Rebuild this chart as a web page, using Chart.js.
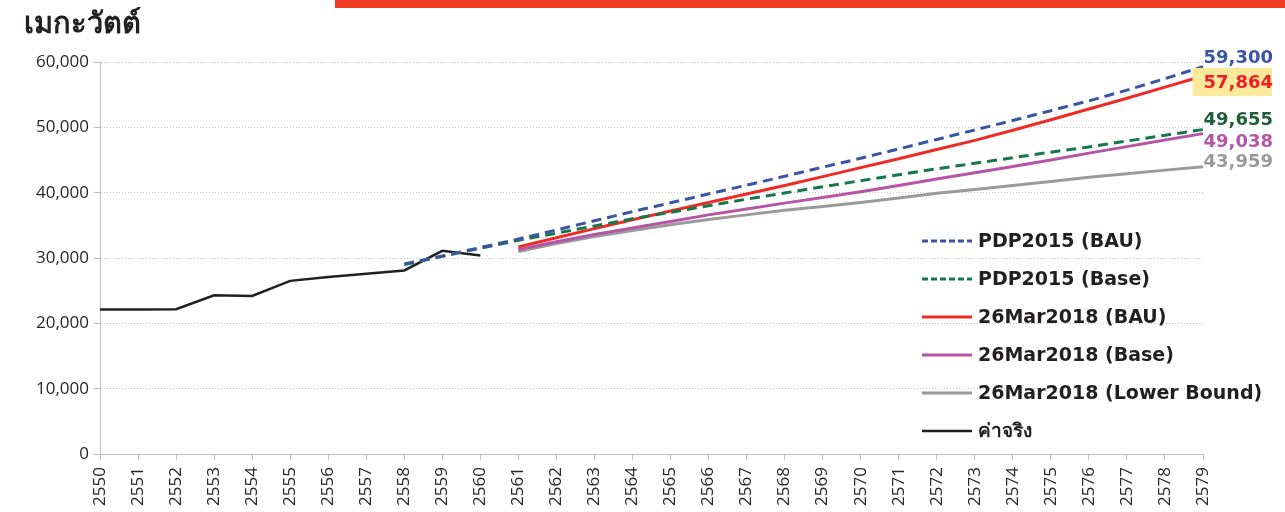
<!DOCTYPE html>
<html>
<head>
<meta charset="utf-8">
<script src="https://cdn.jsdelivr.net/npm/chart.js@4"></script>
<style>
  body { margin: 0; background: #fff; }
  #wrap { position: relative; width: 1285px; height: 512px; }
  #topbar { position: absolute; left: 335px; top: 0; width: 950px; height: 8px; background: #ef3b24; }
  #unit { position: absolute; left: 24px; top: 0px; font: bold 29px Tahoma, "DejaVu Sans", sans-serif; color: #231f20; }
</style>
</head>
<body>
<div id="wrap">
  <canvas id="demandChart" width="1285" height="512"></canvas>
  <div id="topbar"></div>
  <div id="unit">เมกะวัตต์</div>
</div>
<script>
// ปี พ.ศ.
const years = ['2550', '2551', '2552', '2553', '2554', '2555', '2556', '2557', '2558', '2559',
    '2560', '2561', '2562', '2563', '2564', '2565', '2566', '2567', '2568', '2569',
    '2570', '2571', '2572', '2573', '2574', '2575', '2576', '2577', '2578', '2579'];

const actual = [22100, 22100, 22150, 24300, 24200, 26500, 27100, 27600, 28100, 31100,
    30400];

const pdpBau = [null, null, null, null, null, null, null, null, 29100, 30300,
    31600, 32900, 34300, 35700, 37100, 38450, 39800, 41150, 42500, 43900,
    45260, 46700, 48150, 49600, 51050, 52550, 54050, 55700, 57450, 59300];

const pdpBase = [null, null, null, null, null, null, null, null, 29000, 30250,
    31500, 32700, 33800, 34900, 36000, 37000, 38000, 39000, 39950, 40900,
    41840, 42750, 43650, 44500, 45350, 46200, 47000, 47900, 48800, 49655];

const mar18Bau = [null, null, null, null, null, null, null, null, null, null,
    null, 31700, 33100, 34500, 35850, 37200, 38500, 39800, 41100, 42450,
    43830, 45200, 46600, 48000, 49550, 51150, 52800, 54450, 56150, 57864];

const mar18Base = [null, null, null, null, null, null, null, null, null, null,
    null, 31300, 32500, 33600, 34600, 35600, 36600, 37500, 38400, 39250,
    40150, 41100, 42100, 43050, 44000, 45000, 46050, 47050, 48050, 49038];

const mar18Lower = [null, null, null, null, null, null, null, null, null, null,
    null, 31000, 32200, 33300, 34200, 35100, 35900, 36600, 37300, 37900,
    38500, 39200, 39900, 40500, 41100, 41700, 42350, 42900, 43450, 43959];

const yTicks = [0, 10000, 20000, 30000, 40000, 50000, 60000];

const series = [
    { label: 'PDP2015 (BAU)', data: pdpBau, color: '#3a55a4', text: '#3a53a4', dash: [10, 6], width: 3, end: -9 },
    { label: 'PDP2015 (Base)', data: pdpBase, color: '#17774c', text: '#1e5e3b', dash: [10, 6], width: 3, end: -10 },
    { label: '26Mar2018 (BAU)', data: mar18Bau, color: '#ee2a24', text: '#ee1c25', dash: [], width: 3, end: 6 },
    { label: '26Mar2018 (Base)', data: mar18Base, color: '#b455a8', text: '#b455a8', dash: [], width: 3, end: 8 },
    { label: '26Mar2018 (Lower Bound)', data: mar18Lower, color: '#9a9a9a', text: '#9a9a9a', dash: [], width: 3, end: -5 },
    { label: 'ค่าจริง', data: actual, color: '#231f20', text: '#231f20', dash: [], width: 2.5, end: null }
];

const fmt = v => v.toLocaleString('en-US');

// legend + end labels drawn on top
const overlayPlugin = {
    id: 'overlay',
    afterDraw(chart) {
        const ctx = chart.ctx;
        const area = chart.chartArea;
        const yScale = chart.scales.y;
        ctx.save();

        // legend
        series.forEach((s, i) => {
            const ly = 241 + i * 38;
            ctx.beginPath();
            ctx.setLineDash(s.dash.length ? [6, 3] : []);
            ctx.strokeStyle = s.color;
            ctx.lineWidth = s.width;
            ctx.moveTo(922, ly);
            ctx.lineTo(972, ly);
            ctx.stroke();
            ctx.setLineDash([]);
            ctx.fillStyle = '#231f20';
            ctx.font = 'bold 19px Tahoma, "DejaVu Sans", sans-serif';
            ctx.textAlign = 'left';
            ctx.textBaseline = 'middle';
            ctx.fillText(s.label, 978, ly + 1);
        });

        // end labels
        const rx = area.right + 70;
        ctx.font = 'bold 18px Tahoma, "DejaVu Sans", sans-serif';
        ctx.textAlign = 'right';
        ctx.textBaseline = 'middle';
        series.forEach(s => {
            if (s.end === null) return;
            const v = s.data[s.data.length - 1];
            const y = yScale.getPixelForValue(v) + s.end;
            const txt = fmt(v);
            if (s.label === '26Mar2018 (BAU)') {
                const w = ctx.measureText(txt).width;
                ctx.fillStyle = '#fbe99b';
                ctx.fillRect(rx - w - 11, y - 14, w + 10, 28);
            }
            ctx.fillStyle = s.text;
            ctx.fillText(txt, rx, y + 1);
        });
        ctx.restore();
    }
};

const ctx = document.getElementById('demandChart').getContext('2d');
new Chart(ctx, {
    type: 'line',
    data: {
        labels: years,
        datasets: series.map(s => ({
            label: s.label,
            data: s.data,
            borderColor: s.color,
            borderWidth: s.width,
            borderDash: s.dash,
            pointRadius: 0,
            tension: 0,
            fill: false,
            spanGaps: false
        }))
    },
    options: {
        responsive: false,
        animation: false,
        layout: { padding: { top: 62, right: 82, left: 0, bottom: 0 } },
        plugins: {
            legend: { display: false },
            tooltip: { enabled: false }
        },
        scales: {
            x: {
                offset: false,
                grid: { drawOnChartArea: false, drawTicks: true, tickLength: 6, color: '#bfbfbf' },
                border: { color: '#bfbfbf', width: 1 },
                ticks: {
                    autoSkip: false, minRotation: 90, maxRotation: 90, padding: 7,
                    color: '#262626', font: { family: '"Open Sans", sans-serif', size: 17 }
                },
                afterFit(scale) { scale.height = 58; }
            },
            y: {
                min: 0,
                max: 60000,
                afterBuildTicks(scale) { scale.ticks = yTicks.map(v => ({ value: v })); },
                grid: { color: '#c4c4c4', tickLength: 6, tickColor: '#bfbfbf' },
                border: { color: '#bfbfbf', width: 1, dash: [1, 2] },
                ticks: {
                    padding: 5, color: '#262626',
                    font: { family: '"Open Sans", sans-serif', size: 17 },
                    callback: v => fmt(v)
                },
                afterFit(scale) { scale.width = 100; }
            }
        }
    },
    plugins: [overlayPlugin]
});
</script>
</body>
</html>
